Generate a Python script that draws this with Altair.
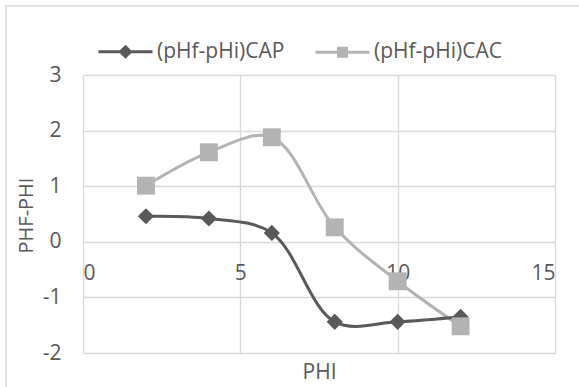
import altair as alt
import pandas as pd

phi = [2, 4, 6, 8, 10, 12]
cap = [0.46, 0.42, 0.16, -1.44, -1.44, -1.35]
cac = [1.01, 1.61, 1.88, 0.26, -0.71, -1.52]
series_names = ["(pHf-pHi)CAP", "(pHf-pHi)CAC"]
x_ticks = [0, 5, 10, 15]
y_ticks = [-2, -1, 0, 1, 2, 3]

DARK = "#595959"
LIGHT = "#b3b3b3"
GRID = "#d9d9d9"
TEXT = "#595959"
FONT = "Open Sans"
FS = 21

df = pd.DataFrame({
    "phi": phi * 2,
    "val": cap + cac,
    "series": [series_names[0]] * len(phi) + [series_names[1]] * len(phi),
})

W, H = 472, 278

xs = alt.Scale(domain=[0, 15], nice=False, zero=False)
ys = alt.Scale(domain=[-2, 3], nice=False, zero=False)

lab = "datum.value < 0 ? '-' + abs(datum.value) : datum.label"

x_enc = alt.X("phi:Q", scale=xs, axis=alt.Axis(
    values=x_ticks, title="PHI", offset=-111, domain=False, ticks=False,
    labelPadding=20, grid=True, gridColor=GRID, gridWidth=1.3,
    labelFont=FONT, labelFontSize=FS, labelColor=TEXT,
    titleFont=FONT, titleFontSize=FS, titleColor=TEXT, titleFontWeight="normal",
    titleY=130, titleBaseline="middle"))
y_enc = alt.Y("val:Q", scale=ys, axis=alt.Axis(
    values=y_ticks, title="PHF-PHI", domain=False, ticks=False, labelExpr=lab,
    labelPadding=22, grid=True, gridColor=GRID, gridWidth=1.3,
    labelFont=FONT, labelFontSize=FS, labelColor=TEXT,
    titleFont=FONT, titleFontSize=FS - 1, titleColor=TEXT, titleFontWeight="normal",
    titleX=-57, titleY=140, titleBaseline="middle"))

base = alt.Chart(df)

border = alt.Chart(pd.DataFrame({"a": [0]})).mark_rect(
    fillOpacity=0, stroke=GRID, strokeWidth=1.5
).encode(x=alt.value(-77), x2=alt.value(W + 60), y=alt.value(-69), y2=alt.value(H + 60))

layers = [border]
for name, col in [(series_names[1], LIGHT), (series_names[0], DARK)]:
    sub = base.transform_filter(alt.datum.series == name)
    layers.append(sub.mark_line(color=col, strokeWidth=3, interpolate="catmull-rom").encode(x=x_enc, y=y_enc))
for name, col, shp, sz in [(series_names[0], DARK, "diamond", 260),
                           (series_names[1], LIGHT, "square", 320)]:
    sub = base.transform_filter(alt.datum.series == name)
    layers.append(sub.mark_point(shape=shp, filled=True, size=sz, color=col, opacity=1).encode(x=x_enc, y=y_enc))

path_d = "M-1,0H1M0,-0.185L0.185,0L0,0.185L-0.185,0Z"
path_s = "M-1,0H1M-0.15,-0.15H0.15V0.15H-0.15Z"
leg = dict(orient="none", legendX=14, legendY=-52, direction="horizontal", title=None,
           symbolSize=2916, symbolStrokeWidth=3, symbolOpacity=1, padding=0,
           labelFont=FONT, labelFontSize=FS, labelColor=TEXT, labelOffset=3,
           columnPadding=24, labelLimit=300)
legend_layer = base.mark_point(filled=True, opacity=0).encode(
    x=x_enc, y=y_enc,
    color=alt.Color("series:N", scale=alt.Scale(domain=series_names, range=[DARK, LIGHT]), legend=alt.Legend(**leg)),
    stroke=alt.Stroke("series:N", scale=alt.Scale(domain=series_names, range=[DARK, LIGHT]), legend=alt.Legend(**leg)),
    shape=alt.Shape("series:N", scale=alt.Scale(domain=series_names, range=[path_d, path_s]), legend=alt.Legend(**leg)),
)
layers.append(legend_layer)

chart = alt.layer(*layers).properties(
    width=W, height=H,
    autosize=alt.AutoSizeParams(type="none"),
    padding={"left": 83, "top": 75, "right": 24, "bottom": 34},
    background="white",
).configure_view(strokeWidth=0)

chart.save("out.html", embed_options={"renderer": "svg", "actions": False})
